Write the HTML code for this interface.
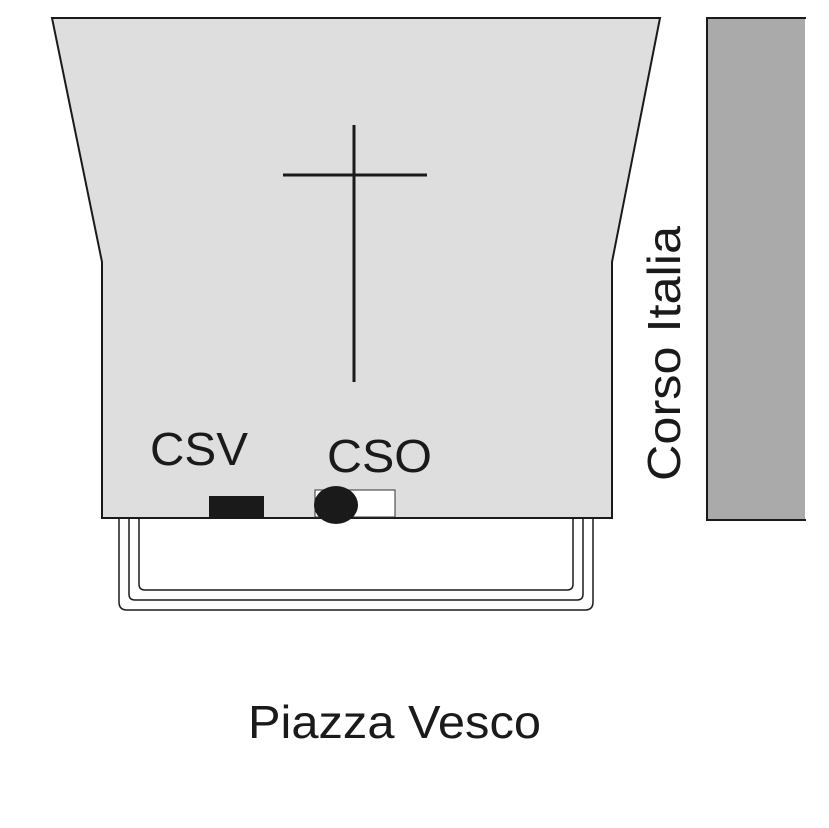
<!DOCTYPE html>
<html><head><style>html,body{margin:0;padding:0;background:#fff}</style></head>
<body>
<svg width="829" height="828" viewBox="0 0 829 828" xmlns="http://www.w3.org/2000/svg" style="display:block">
<rect width="829" height="828" fill="#fff"/>
<polygon points="52,18 660,18 612,262 612,518 102,518 102,262" fill="#dedede" stroke="#1a1a1a" stroke-width="2"/>
<path d="M707,18 H805 V520 H707 Z" fill="#aaa"/>
<path d="M806,18 H707 V520 H806" fill="none" stroke="#1a1a1a" stroke-width="2"/>
<line x1="354" y1="125" x2="354" y2="382" stroke="#1a1a1a" stroke-width="3"/>
<line x1="283" y1="175" x2="427" y2="175" stroke="#1a1a1a" stroke-width="3"/>
<g fill="none" stroke="#1a1a1a" stroke-width="1.5">
<path d="M119,519 V602 Q119,610 127,610 H585 Q593,610 593,602 V519"/>
<path d="M129,519 V594 Q129,600 135,600 H577 Q583,600 583,594 V519"/>
<path d="M139,519 V584 Q139,590 145,590 H567 Q573,590 573,584 V519"/>
</g>
<rect x="209" y="496" width="55" height="21" fill="#1a1a1a"/>
<rect x="315" y="490" width="80" height="27" fill="#fff" stroke="#333" stroke-width="1"/>
<ellipse cx="336" cy="505" rx="22" ry="19" fill="#1a1a1a"/>
<g font-family="Liberation Sans, sans-serif" fill="#1a1a1a" font-size="46">
<text x="150" y="465" textLength="98" lengthAdjust="spacingAndGlyphs">CSV</text>
<text x="327" y="472" textLength="105" lengthAdjust="spacingAndGlyphs">CSO</text>
<text x="248" y="738" textLength="293" lengthAdjust="spacingAndGlyphs">Piazza Vesco</text>
<text transform="translate(680,481) rotate(-90)" textLength="255" lengthAdjust="spacingAndGlyphs">Corso Italia</text>
</g>
</svg>
</body></html>
